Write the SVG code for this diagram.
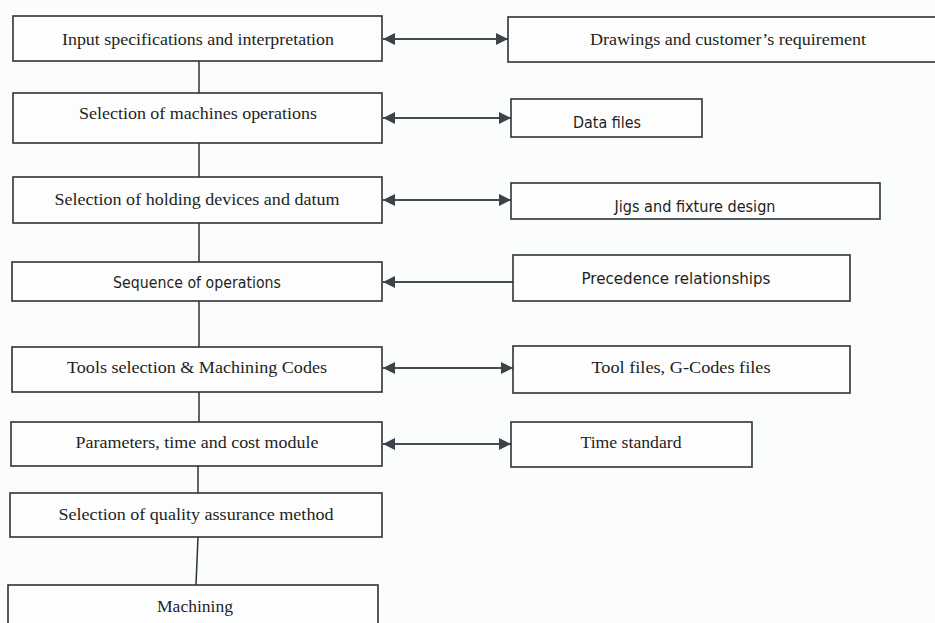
<svg xmlns="http://www.w3.org/2000/svg" width="935" height="623" viewBox="0 0 935 623">
<defs>
<style>
.box{fill:#fdfdfd;stroke:#2f3236;stroke-width:1.6}
.t{font-family:"Liberation Serif","Times New Roman",serif;font-size:16px;fill:#1e1f22;text-anchor:middle}
.s{font-family:"Liberation Sans Narrow","DejaVu Sans Condensed","Liberation Sans",sans-serif;font-size:15px;fill:#1e1f22;text-anchor:middle}
.c{stroke:#2f3236;stroke-width:1.5;fill:none}
.a{stroke:#454b53;stroke-width:1.8;fill:none}
</style>
<marker id="ah" viewBox="0 0 12 12" refX="12" refY="6" markerWidth="12" markerHeight="12" markerUnits="userSpaceOnUse" orient="auto-start-reverse">
<path d="M0,0 L12,6 L0,12 Z" fill="#3d4249"/>
</marker>
</defs>
<rect width="935" height="623" fill="#fbfcfc"/>
<g id="connectors">
<line class="c" x1="199" y1="61" x2="199" y2="93"/>
<line class="c" x1="199" y1="143" x2="199" y2="177"/>
<line class="c" x1="199" y1="223" x2="199" y2="262"/>
<line class="c" x1="199" y1="301" x2="199" y2="347"/>
<line class="c" x1="199" y1="392" x2="199" y2="422"/>
<line class="c" x1="198" y1="466" x2="198" y2="493"/>
<line class="c" x1="198" y1="537" x2="196" y2="585"/>
<line class="a" x1="383" y1="39" x2="508" y2="39" marker-start="url(#ah)" marker-end="url(#ah)"/>
<line class="a" x1="383" y1="118" x2="511" y2="118" marker-start="url(#ah)" marker-end="url(#ah)"/>
<line class="a" x1="383" y1="200" x2="511" y2="200" marker-start="url(#ah)" marker-end="url(#ah)"/>
<line class="a" x1="513" y1="282" x2="383" y2="282" marker-end="url(#ah)"/>
<line class="a" x1="383" y1="368" x2="513" y2="368" marker-start="url(#ah)" marker-end="url(#ah)"/>
<line class="a" x1="383" y1="444" x2="511" y2="444" marker-start="url(#ah)" marker-end="url(#ah)"/>
</g>
<g id="n1"><rect class="box" x="13" y="16" width="369" height="45"/><text class="t" x="198" y="45" textLength="272" lengthAdjust="spacingAndGlyphs">Input specifications and interpretation</text></g>
<g id="n2"><rect class="box" x="13" y="93" width="369" height="50"/><text class="t" x="198" y="119" textLength="238" lengthAdjust="spacingAndGlyphs">Selection of machines operations</text></g>
<g id="n3"><rect class="box" x="13" y="177" width="369" height="46"/><text class="t" x="197" y="205" textLength="285" lengthAdjust="spacingAndGlyphs">Selection of holding devices and datum</text></g>
<g id="n4"><rect class="box" x="12" y="262" width="370" height="39"/><text class="s" x="197" y="288" textLength="168" lengthAdjust="spacingAndGlyphs">Sequence of operations</text></g>
<g id="n5"><rect class="box" x="12" y="347" width="370" height="45"/><text class="t" x="197" y="373" textLength="260" lengthAdjust="spacingAndGlyphs">Tools selection &amp; Machining Codes</text></g>
<g id="n6"><rect class="box" x="11" y="422" width="371" height="44"/><text class="t" x="197" y="448" textLength="243" lengthAdjust="spacingAndGlyphs">Parameters, time and cost module</text></g>
<g id="n7"><rect class="box" x="10" y="493" width="372" height="44"/><text class="t" x="196" y="520" textLength="275" lengthAdjust="spacingAndGlyphs">Selection of quality assurance method</text></g>
<g id="n8"><rect class="box" x="8" y="585" width="370" height="42"/><text class="t" x="195" y="612" textLength="76" lengthAdjust="spacingAndGlyphs">Machining</text></g>
<g id="r1"><rect class="box" x="508" y="17" width="430" height="45"/><text class="t" x="728" y="45" textLength="276" lengthAdjust="spacingAndGlyphs">Drawings and customer’s requirement</text></g>
<g id="r2"><rect class="box" x="511" y="99" width="191" height="38"/><text class="s" x="607" y="128" textLength="68" lengthAdjust="spacingAndGlyphs">Data files</text></g>
<g id="r3"><rect class="box" x="511" y="183" width="369" height="36"/><text class="s" x="695" y="212" textLength="161" lengthAdjust="spacingAndGlyphs">Jigs and fixture design</text></g>
<g id="r4"><rect class="box" x="513" y="255" width="337" height="46"/><text class="s" x="676" y="284" textLength="189" lengthAdjust="spacingAndGlyphs">Precedence relationships</text></g>
<g id="r5"><rect class="box" x="513" y="346" width="337" height="47"/><text class="t" x="681" y="373" textLength="179" lengthAdjust="spacingAndGlyphs">Tool files, G-Codes files</text></g>
<g id="r6"><rect class="box" x="511" y="422" width="241" height="45"/><text class="t" x="631" y="448" textLength="101" lengthAdjust="spacingAndGlyphs">Time standard</text></g>
</svg>
